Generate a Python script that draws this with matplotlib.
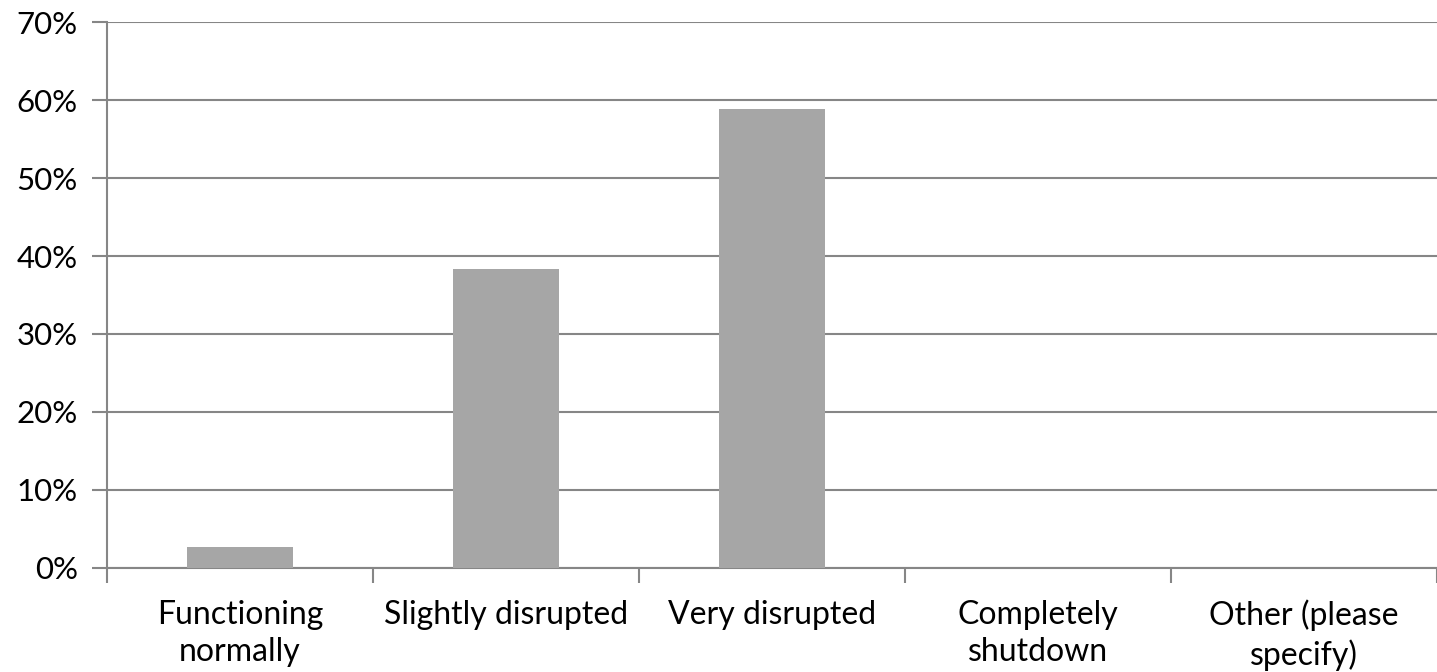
import matplotlib.pyplot as plt
import numpy as np
from matplotlib.ticker import PercentFormatter

# respuestas de la encuesta
categorias = ['Functioning\nnormally', 'Slightly disrupted', 'Very disrupted',
              'Completely\nshutdown', 'Other (please\nspecify)']
porcentajes = [2.7, 38.4, 58.9, 0.0, 0.0]
ticks_y = [0, 10, 20, 30, 40, 50, 60, 70]

gris = '#868686'
plt.rcParams['font.family'] = ['Lato', 'DejaVu Sans']

fig = plt.figure(figsize=(14.37, 6.72), dpi=100)
ax = fig.add_axes([107 / 1437, 104.3 / 672, 1 - 107 / 1437, (649.7 - 104.3) / 672])

x = np.arange(len(categorias))
ax.bar(x, porcentajes, width=0.4, color='#a6a6a6', zorder=3)

ax.set_xlim(-0.5, len(categorias) - 0.5)
ax.set_ylim(0, 70)
ax.set_yticks(ticks_y)
ax.yaxis.set_major_formatter(PercentFormatter(decimals=0))
ax.yaxis.grid(True, color=gris, linewidth=1.5, zorder=0)

# marcas del eje x entre categorias
ax.set_xticks(np.arange(len(categorias) + 1) - 0.5, minor=False)
ax.set_xticklabels([])
ax.set_xticks(x, minor=True)
ax.set_xticklabels(categorias, minor=True, fontsize=23, linespacing=1.32)
ax.tick_params(axis='x', which='major', length=11, width=1.5, color=gris)
ax.tick_params(axis='x', which='minor', length=0, pad=23)
ax.tick_params(axis='y', length=11, width=1.5, color=gris, labelsize=22.5, pad=10)

for lado in ['top', 'right']:
    ax.spines[lado].set_visible(False)
for lado in ['left', 'bottom']:
    ax.spines[lado].set_color(gris)
    ax.spines[lado].set_linewidth(1.5)

fig.savefig('out.png', dpi=100)
